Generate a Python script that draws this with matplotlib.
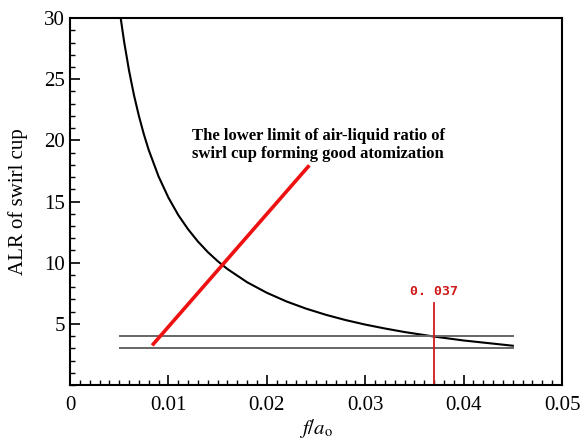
import matplotlib.pyplot as plt
from matplotlib.ticker import MultipleLocator, FixedLocator

# values
f_ao = [0.00515, 0.0055, 0.006, 0.0065, 0.007, 0.0075, 0.008, 0.009, 0.010,
        0.011, 0.012, 0.013, 0.014, 0.015, 0.016, 0.018, 0.020, 0.022,
        0.024, 0.026, 0.028, 0.030, 0.032, 0.034, 0.037, 0.040, 0.045]
alr = [30.0, 28.06, 25.7, 23.7, 22.0, 20.51, 19.21, 17.05, 15.32,
       13.9, 12.73, 11.73, 10.87, 10.13, 9.48, 8.4, 7.54, 6.83,
       6.24, 5.74, 5.31, 4.94, 4.62, 4.33, 3.96, 3.64, 3.21]

x_ticks = [0, 0.01, 0.02, 0.03, 0.04, 0.05]
x_labels = ['0', '0.01', '0.02', '0.03', '0.04', '0.05']
y_ticks = [5, 10, 15, 20, 25, 30]

limit_levels = [4, 3]
limit_x = [0.0051, 0.045]
arrow_x = [0.00847, 0.0242]
arrow_y = [3.35, 17.85]
marker_x = 0.037
marker_top = 6.73

plt.rcParams['font.family'] = ['Liberation Serif', 'DejaVu Serif']
plt.rcParams['mathtext.fontset'] = 'stix'

fig = plt.figure(figsize=(5.8, 4.4), dpi=100)
ax = fig.add_axes([0.1207, 0.125, 0.8483, 0.834])

ax.plot(f_ao, alr, color='black', lw=1.5)
for lvl in limit_levels:
    ax.plot(limit_x, [lvl, lvl], color='#666666', lw=1.4)
ax.plot(arrow_x, arrow_y, color='#ee1111', lw=2.6)
ax.plot([marker_x, marker_x], [0, marker_top], color='#d01a1a', lw=1.3)
ax.text(marker_x, 7.1, '0. 037', color='#d01a1a', fontsize=9.5, fontweight='bold',
        family='DejaVu Sans Mono', ha='center', va='bottom')

ax.text(0.0124, 19.6, 'The lower limit of air-liquid ratio of\nswirl cup forming good atomization',
        fontsize=12, fontweight='bold', ha='left', va='center', linespacing=1.15)

ax.set_xlim(0, 0.05)
ax.set_ylim(0, 30)
ax.xaxis.set_major_locator(FixedLocator(x_ticks))
ax.xaxis.set_minor_locator(MultipleLocator(0.001))
ax.yaxis.set_major_locator(FixedLocator(y_ticks))
ax.yaxis.set_minor_locator(MultipleLocator(1))
ax.set_xticklabels(x_labels)
ax.tick_params(which='both', direction='in', top=False, right=False, labelsize=15)
ax.tick_params(which='major', length=7, width=1.2)
ax.tick_params(which='minor', length=3.5, width=1.0)
ax.tick_params(axis='x', pad=8)
for sp in ax.spines.values():
    sp.set_linewidth(1.5)

ax.set_ylabel('ALR of swirl cup', fontsize=15, labelpad=12)
ax.set_xlabel(r'$f/a_{\mathrm{o}}$', fontsize=15, labelpad=1)

fig.savefig('out.png', dpi=100)
